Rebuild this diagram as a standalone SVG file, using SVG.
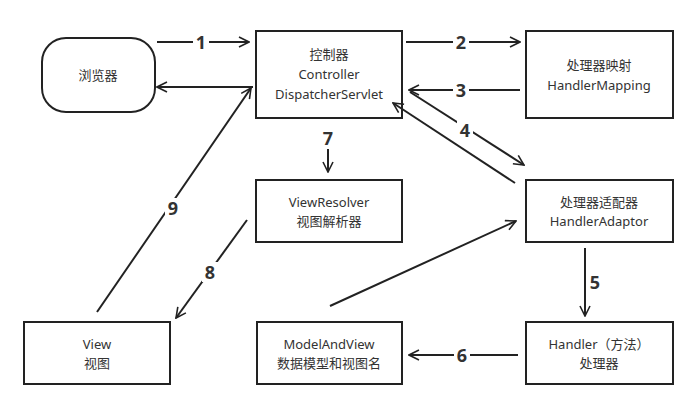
<svg xmlns="http://www.w3.org/2000/svg" width="693" height="412" viewBox="0 0 693 412">
<style>
.b{fill:#fff;stroke:#222;stroke-width:2}
.t{font-family:"Noto Sans","Noto Sans CJK SC",sans-serif;font-size:13px;fill:#333;text-anchor:middle}
.c line{stroke:#222;stroke-width:2;marker-end:url(#a)}
.n{font-family:"Noto Sans",sans-serif;font-size:18px;font-weight:bold;fill:#333;text-anchor:middle;dominant-baseline:central}
</style>
<defs><marker id="a" viewBox="0 0 12 12" refX="11" refY="6" markerWidth="12" markerHeight="12" markerUnits="userSpaceOnUse" orient="auto"><path d="M1,1 L11,6 L1,11" fill="none" stroke="#222" stroke-width="1.6"/></marker></defs>
<rect width="693" height="412" fill="#fff"/>
<g id="browser"><rect class="b" x="42" y="38" width="113" height="74" rx="24"/><text class="t" x="98" y="80">浏览器</text></g>
<g id="controller"><rect class="b" x="256" y="31" width="146" height="87"/><text class="t" x="329" y="59">控制器</text><text class="t" x="329" y="79">Controller</text><text class="t" x="329" y="99">DispatcherServlet</text></g>
<g id="mapping"><rect class="b" x="526" y="31" width="147" height="87"/><text class="t" x="599" y="70">处理器映射</text><text class="t" x="599" y="90">HandlerMapping</text></g>
<g id="resolver"><rect class="b" x="256" y="180" width="146" height="62"/><text class="t" x="329" y="207">ViewResolver</text><text class="t" x="329" y="226">视图解析器</text></g>
<g id="adaptor"><rect class="b" x="526" y="180" width="147" height="62"/><text class="t" x="599" y="207">处理器适配器</text><text class="t" x="599" y="226">HandlerAdaptor</text></g>
<g id="view"><rect class="b" x="24" y="322" width="146" height="62"/><text class="t" x="97" y="349">View</text><text class="t" x="97" y="368">视图</text></g>
<g id="mav"><rect class="b" x="257" y="322" width="145" height="62"/><text class="t" x="329" y="349">ModelAndView</text><text class="t" x="329" y="368">数据模型和视图名</text></g>
<g id="handler"><rect class="b" x="526" y="322" width="147" height="62"/><text class="t" x="599" y="349">Handler（方法）</text><text class="t" x="599" y="368">处理器</text></g>
<g class="c" id="connectors">
<line x1="157" y1="42" x2="249" y2="42"/>
<line x1="253" y1="87" x2="157" y2="87"/>
<line x1="406" y1="42" x2="520" y2="42"/>
<line x1="520" y1="90" x2="409" y2="90"/>
<line x1="410" y1="92" x2="524" y2="165"/>
<line x1="515" y1="183" x2="393" y2="103"/>
<line x1="328" y1="128" x2="328" y2="172"/>
<line x1="247" y1="220" x2="176" y2="318"/>
<line x1="97" y1="312" x2="251" y2="88"/>
<line x1="585" y1="248" x2="585" y2="316"/>
<line x1="518" y1="355" x2="409" y2="355"/>
<line x1="330" y1="306" x2="516" y2="221"/>
</g>
<g id="labels">
<rect x="193" y="32" width="16" height="20" fill="#fff"/><text class="n" x="201" y="42">1</text>
<rect x="453" y="32" width="16" height="20" fill="#fff"/><text class="n" x="461" y="42">2</text>
<rect x="453" y="80" width="16" height="20" fill="#fff"/><text class="n" x="461" y="90">3</text>
<rect x="457" y="120" width="16" height="20" fill="#fff"/><text class="n" x="465" y="130">4</text>
<rect x="587" y="272" width="16" height="20" fill="#fff"/><text class="n" x="595" y="282">5</text>
<rect x="454" y="345" width="16" height="20" fill="#fff"/><text class="n" x="462" y="355">6</text>
<rect x="320" y="127" width="16" height="22" fill="#fff"/><text class="n" x="328" y="138">7</text>
<rect x="202" y="262" width="16" height="20" fill="#fff"/><text class="n" x="210" y="272">8</text>
<rect x="165" y="198" width="16" height="20" fill="#fff"/><text class="n" x="173" y="208">9</text>
</g>
</svg>
